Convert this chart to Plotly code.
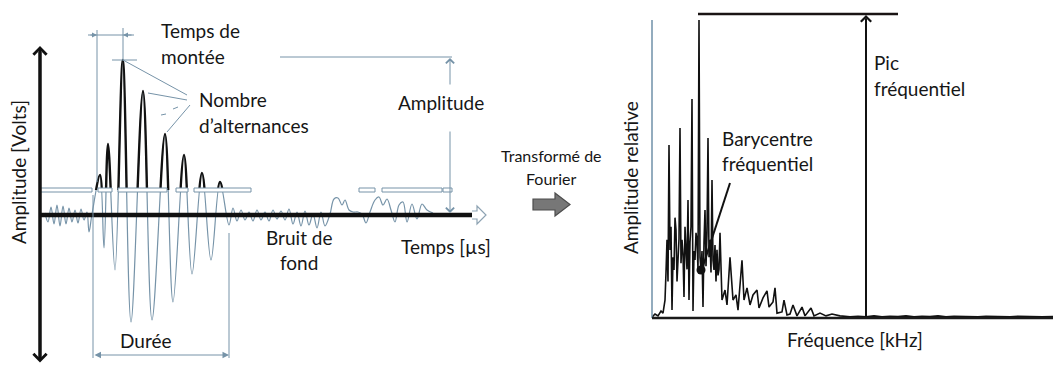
import plotly.graph_objects as go

W, H = 1053, 371
FONT = "Lato"
TXT = "#161616"
THIN = "#7693a8"

# ---------------- data: acoustic emission waveform (time in µs, amplitude in V)
wave_t = [1.25, 2.0, 2.75, 3.5, 4.25, 5.0, 5.75, 6.5, 7.25, 8.0, 8.75, 9.5, 10.25, 11.0, 11.75, 12.25, 13.0,
          15.0, 16.0, 17.0, 18.75, 20.7, 22.75, 25.75, 28.0, 31.25, 33.25, 36.0, 38.0, 40.5, 42.75, 45.0, 47.25,
          48.25, 49.25, 50.25, 51.25, 52.25, 53.25, 54.25, 55.25, 56.25, 57.25, 58.25, 59.25, 60.25, 61.25,
          62.25, 63.25, 64.25, 65.25, 66.25, 67.25, 68.25, 69.25, 70.25, 71.25, 72.5, 73.5, 74.5, 75.5, 76.25,
          77.25, 78.25, 79.5, 80.5, 81.5, 82.5, 83.75, 84.75, 85.75, 86.75, 87.75, 88.75, 89.75, 90.75, 91.75,
          93.0, 94.25, 95.5, 96.75, 98.25]
wave_v = [0.02, -0.07, 0.08, -0.09, 0.10, -0.11, 0.09, -0.09, 0.07, -0.07, 0.05, -0.08, 0.06, -0.05, 0.03, -0.17, 0.01,
          0.40, -0.33, 0.71, -0.55, 1.55, -1.07, 1.24, -1.05, 0.81, -0.87, 0.60, -0.59, 0.42, -0.45, 0.33, -0.10,
          0.07, -0.06, 0.05, -0.05, 0.03, -0.06, 0.05, -0.05, 0.03, -0.06, 0.05, -0.04, 0.04, -0.05,
          0.06, -0.09, 0.03, -0.11, 0.04, -0.10, 0.01, -0.13, 0.03, -0.11, 0.01, 0.16, 0.17, 0.10, 0.15,
          0.05, 0.03, 0.03, 0.01, -0.08, 0.03, 0.15, 0.18, 0.10, 0.16, 0.05, -0.07, 0.10, 0.13, -0.07,
          0.11, -0.04, 0.11, 0.05, 0.02]

threshold_v = 0.25
threshold_segments = [(0, 13), (14.5, 18), (19.5, 31.75), (34, 37), (38.5, 52.75),
                      (79.75, 83.75), (85.5, 100.5), (100.75, 103)]

# ---------------- data: Fourier spectrum (frequency in kHz, relative amplitude)
spec_f = [0, 3, 6, 9, 11, 13, 14, 15, 16, 17, 18, 19, 20, 21, 22, 23, 24, 25, 26, 27, 28, 29, 30, 31, 32,
          33, 34, 35, 36, 37, 38, 39, 40, 41, 42, 43, 44, 45, 46, 47, 48, 49, 50, 51, 52, 53, 54, 55, 56,
          57, 58, 59, 60, 61, 62, 63, 64, 65, 66, 67, 68, 70, 73, 75, 78, 81, 84, 86, 90, 92, 95, 98, 101,
          105, 107, 111, 115, 117, 121, 123, 125, 130, 132, 135, 138, 141, 145, 150, 153, 159, 162, 168,
          174, 180, 188, 198, 206, 214, 222, 230, 238, 246, 254, 262, 270, 278, 286, 294, 302, 310, 318,
          326, 334, 342, 350, 358, 366, 374, 382, 390, 401]
spec_a = [0.003, 0.013, 0.007, 0.023, 0.016, 0.059, 0.15, 0.257, 0.12, 0.569, 0.224, 0.30, 0.026, 0.20,
          0.158, 0.33, 0.289, 0.12, 0.191, 0.26, 0.625, 0.18, 0.257, 0.21, 0.069,
          0.30, 0.224, 0.16, 0.388, 0.059, 0.25, 0.30, 0.72, 0.023, 0.22, 0.191, 0.28, 0.257, 0.16, 0.98,
          0.20, 0.158, 0.22, 0.036, 0.25, 0.355, 0.17, 0.28, 0.592,
          0.20, 0.257, 0.15, 0.454, 0.19, 0.158, 0.24, 0.12, 0.224, 0.14, 0.16, 0.28, 0.059, 0.092, 0.043,
          0.20, 0.059, 0.076, 0.026, 0.19, 0.059, 0.099, 0.043, 0.076,
          0.092, 0.033, 0.066, 0.089, 0.036, 0.053, 0.099, 0.016, 0.020, 0.059, 0.010, 0.013, 0.043, 0.007,
          0.036, 0.007, 0.033, 0.007, 0.016,
          0.007, 0.013, 0.007, 0.004, 0.006, 0.004, 0.007, 0.004, 0.006, 0.005, 0.007, 0.004, 0.006, 0.005,
          0.007, 0.004, 0.006, 0.005, 0.006, 0.004, 0.006, 0.005, 0.006, 0.004, 0.006, 0.005, 0.006, 0.004,
          0.005]
barycentre_f = [49]
barycentre_a = [0.158]

fig = go.Figure()

# full waveform (thin grey-blue)
fig.add_trace(go.Scatter(x=wave_t, y=wave_v, mode="lines", xaxis="x", yaxis="y",
                         line=dict(color=THIN, width=1.2, shape="spline", smoothing=1.0),
                         hoverinfo="skip", showlegend=False))
# same waveform clipped above the threshold (black alternances)
fig.add_trace(go.Scatter(x=wave_t, y=wave_v, mode="lines", xaxis="x", yaxis="y2",
                         line=dict(color="#111111", width=2.4, shape="spline", smoothing=1.0),
                         hoverinfo="skip", showlegend=False))
# spectrum
fig.add_trace(go.Scatter(x=spec_f, y=spec_a, mode="lines", xaxis="x3", yaxis="y3",
                         line=dict(color="#111111", width=1.6),
                         hoverinfo="skip", showlegend=False))
fig.add_trace(go.Scatter(x=barycentre_f, y=barycentre_a, mode="markers", xaxis="x3", yaxis="y3",
                         marker=dict(color="#111111", size=9),
                         hoverinfo="skip", showlegend=False))
# overlay frame for the schematic decorations
fig.add_trace(go.Scatter(x=[0], y=[0], mode="markers", xaxis="x4", yaxis="y4",
                         marker=dict(opacity=0), hoverinfo="skip", showlegend=False))

shapes = []
# threshold rectangles
for a, b in threshold_segments:
    shapes.append(dict(type="rect", xref="x", yref="y", x0=a, x1=b,
                       y0=threshold_v - 0.02, y1=threshold_v + 0.02,
                       line=dict(color=THIN, width=1), fillcolor="white", layer="above"))


def seg(x0, y0, x1, y1, color=THIN, width=1):
    shapes.append(dict(type="line", xref="x4", yref="y4", x0=x0, y0=y0, x1=x1, y1=y1,
                       line=dict(color=color, width=width), layer="above"))


# left panel axes
seg(40, 52, 40, 358, "#111111", 3)
seg(40, 215, 472, 215, "#111111", 4.5)
shapes.append(dict(type="path", xref="x4", yref="y4",
                   path="M472,211 L477,211 L477,206 L486,215 L477,224 L477,219 L472,219",
                   line=dict(color="#8ea3b3", width=1.2), fillcolor="white", layer="above"))
# rise time bracket
seg(97, 30, 97, 182)
seg(123, 28, 123, 60)
seg(88, 35, 134, 35)
seg(112, 60, 137, 60)
# number of counts pointers
seg(123, 60, 187, 95)
seg(148, 93, 187, 100)
seg(161, 115, 166, 114)
seg(173, 109, 178, 107)
seg(167, 132, 190, 105)
# amplitude
seg(280, 57, 452, 57)
# duration
seg(93, 195, 93, 358)
seg(229, 233, 229, 358)
# Fourier arrow
shapes.append(dict(type="path", xref="x4", yref="y4",
                   path="M533,199 L555,199 L555,193 L570,204.5 L555,216 L555,210 L533,210 Z",
                   line=dict(color="#4d4d4d", width=1.2), fillcolor="#777777", layer="above"))
# right panel axes
seg(652, 20, 652, 318, "#6f90a8", 1.5)
seg(652, 318, 1053, 318, "#1a1a1a", 2.5)
seg(698, 14, 898, 14, "#1a1414", 2.5)
seg(730, 183, 703, 266, "#111111", 2)
fig.update_layout(shapes=shapes)

ann = []


def arrow(x, y, ax, ay, color=THIN, width=1.0, size=1.2, head=2, both=False):
    d = dict(x=x, y=y, ax=ax, ay=ay, xref="x4", yref="y4", axref="x4", ayref="y4",
             text="", showarrow=True, arrowhead=head, arrowsize=size, arrowwidth=width,
             arrowcolor=color, standoff=0, startstandoff=0)
    if both:
        d.update(arrowside="end+start", startarrowhead=head, startarrowsize=size)
    ann.append(d)


arrow(40, 46, 40, 364, "#111111", 3, 0.85, 4, both=True)
arrow(450, 58, 450, 86, THIN, 1, 1.6, 4)
arrow(450, 213, 450, 130, THIN, 1, 1.6, 4)
arrow(229, 355, 93, 355, THIN, 1, 1.3, 2, both=True)
arrow(97, 35, 89, 35, THIN, 1, 1.0, 2)
arrow(123, 35, 133, 35, THIN, 1, 1.0, 2)
arrow(866, 15, 866, 318, "#111111", 2, 1.0, 4)


def label(x, y, s, size=19, anchor="left", angle=0):
    ann.append(dict(x=x, y=y, xref="x4", yref="y4", text=s, showarrow=False,
                    xanchor=anchor, yanchor="middle", textangle=angle,
                    font=dict(family=FONT, size=size, color=TXT)))


label(159, 30, "Temps de")
label(159, 56, "montée")
label(197, 99, "Nombre")
label(197, 125, "d’alternances")
label(396, 102, "Amplitude")
label(299, 237, "Bruit de", anchor="center")
label(299, 262, "fond", anchor="center")
label(399, 246, "Temps [µs]")
label(145, 340, "Durée", anchor="center")
label(18, 172, "Amplitude [Volts]", angle=-90, anchor="center")
label(551, 155, "Transformé de", size=16, anchor="center")
label(551, 178, "Fourier", size=16, anchor="center")
label(630, 178, "Amplitude relative", angle=-90, anchor="center")
label(720, 138, "Barycentre")
label(720, 163, "fréquentiel")
label(872, 62, "Pic")
label(872, 88, "fréquentiel")
label(855, 339, "Fréquence [kHz]", anchor="center")

hidden = dict(visible=False, showgrid=False, zeroline=False, fixedrange=True)
fig.update_layout(
    width=W, height=H, margin=dict(l=0, r=0, t=0, b=0),
    paper_bgcolor="white", plot_bgcolor="rgba(0,0,0,0)",
    annotations=ann,
    xaxis=dict(domain=[40 / W, 472 / W], range=[0, 108], **hidden),
    yaxis=dict(domain=[6 / H, 326 / H], range=[-1.5, 1.7], anchor="x", **hidden),
    yaxis2=dict(domain=[(H - 190) / H, 326 / H], range=[0.25, 1.7], anchor="x", **hidden),
    xaxis3=dict(domain=[652 / W, 1.0], range=[0, 401], anchor="y3", **hidden),
    yaxis3=dict(domain=[(H - 318) / H, (H - 14) / H], range=[0, 1], anchor="x3", **hidden),
    xaxis4=dict(domain=[0, 1], range=[0, W], anchor="y4", **hidden),
    yaxis4=dict(domain=[0, 1], range=[H, 0], anchor="x4", **hidden),
)

fig.write_html("out.html", config={"displayModeBar": False})
